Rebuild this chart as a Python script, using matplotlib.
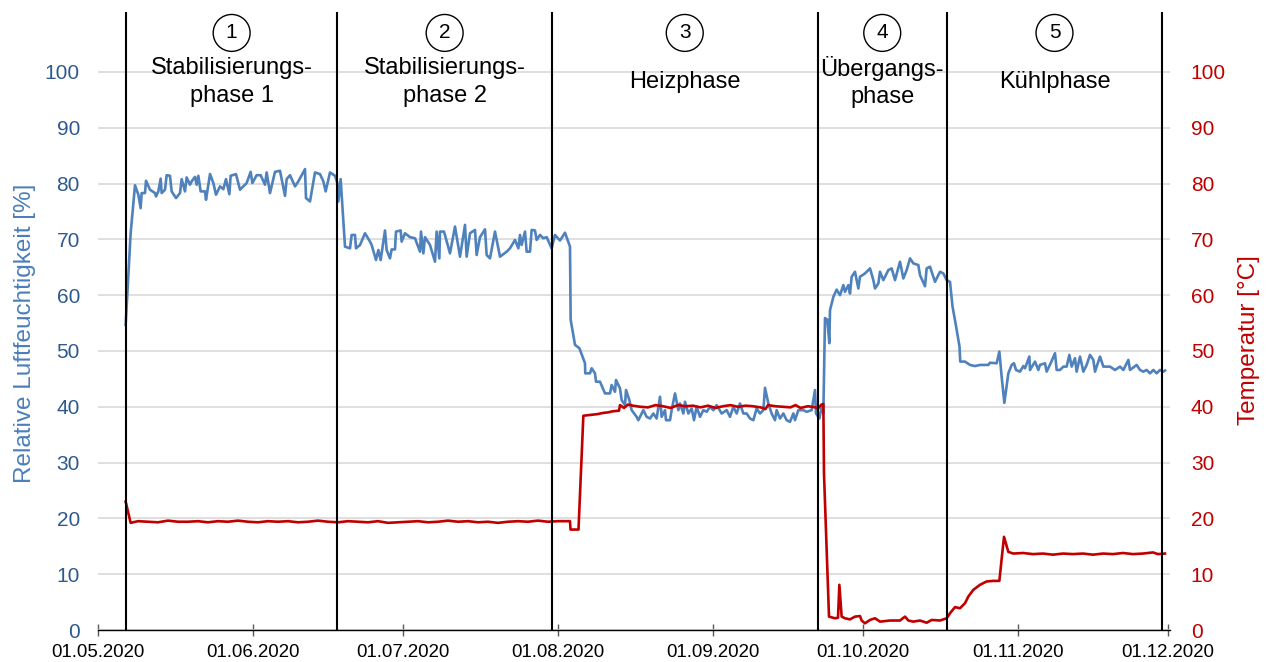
import numpy as np
import matplotlib
matplotlib.use("Agg")
import matplotlib.pyplot as plt
import matplotlib.dates as mdates

plt.rcParams["font.family"] = ["Liberation Sans", "DejaVu Sans"]

# ---------------------------------------------------------------------------
# Measurement data (time in days after 01.05.2020)
# ---------------------------------------------------------------------------
hum_days = [
    5.53, 6.53, 7.4, 8.07, 8.53, 8.73, 9.4, 9.6, 10.4, 11.4, 11.6, 12.07, 12.53,
    12.73, 13.4, 13.73, 14.4, 14.73, 15.6, 16.4, 16.73, 17.4, 17.73, 18.4, 18.73,
    19.4, 19.73, 20.07, 20.53, 21.4, 21.6, 22.4, 23.07, 23.6, 24.4, 25.07, 25.6,
    26.27, 26.53, 27.6, 28.4, 29.73, 30.53, 30.87, 31.73, 32.53, 33.4, 33.73,
    34.4, 35.4, 36.4, 37.4, 37.73, 38.4, 39.4, 40.07, 41.4, 41.6, 42.4, 43.4,
    44.4, 45.07, 45.53, 46.4, 47.4, 47.87, 48.07, 48.53,
    49.4, 50.4, 50.73, 51.4, 51.6, 52.4, 53.4, 54.4, 54.73, 55.6, 56.07, 56.53,
    57.4, 57.73, 58.4, 58.73, 59.4, 59.6, 60.53, 60.73, 61.4, 62.4, 63.4, 64.4,
    64.6, 65.07, 65.4, 66.4, 67.4, 67.73, 68.27, 68.4, 69.2, 70.4, 71.4, 72.4,
    73.4, 73.73, 74.4, 75.4, 75.73, 76.4, 77.4, 77.73, 78.4, 79.4, 80.4, 81.73,
    82.4, 83.4, 84.07, 84.4, 84.73, 85.4, 85.73, 86.4, 86.73, 87.4, 87.73, 88.4,
    89.07, 89.73, 90.73, 91.4, 92.4, 93.4,
    94.4, 94.53, 95.4, 96.27, 97.4, 97.45, 98.4, 98.73, 99.4, 99.6, 100.4, 101.4,
    102.4, 102.73, 103.4, 103.6, 104.4, 104.73, 105.4, 105.6, 106.27, 106.73,
    107.73, 108.07, 108.4, 109.07, 109.73, 110.4, 111.07, 111.73, 112.4, 112.73,
    113.4, 113.6, 114.4, 114.73, 115.4, 116.07, 116.4, 117.07, 117.4, 118.07,
    118.73, 119.2, 119.73, 120.4, 121.07, 121.73, 122.4, 123.07, 123.73, 124.73,
    125.73, 126.4, 127.07, 127.73, 128.4, 129.07, 129.73, 130.4, 131.07, 131.73,
    132.4, 133.07, 133.4, 134.07, 134.73, 135.4, 135.73, 136.4, 137.07, 137.73,
    138.4, 139.07, 139.4, 140.07, 141.07, 141.73, 142.73, 143.4, 143.6, 144.07,
    144.27, 144.73, 145.07,
    145.4, 145.87, 146.27, 146.4, 147.07, 147.73, 148.4, 149.07, 149.4, 150.07,
    150.4, 150.73, 151.4, 152.07, 152.4, 153.4, 154.4, 155.07, 155.4, 156.07,
    156.4, 157.07, 158.07, 158.73, 159.4, 160.4, 161.07, 161.73, 162.4, 163.07,
    164.07, 164.4, 165.4, 165.73, 166.4, 167.4, 168.4, 169.07, 169.73, 170.4,
    170.9, 171.5, 172.3, 172.45,
    173.4, 174.4, 175.4, 176.4, 178.07, 178.4, 179.73, 180.27, 180.73, 181.27,
    182.07, 182.73, 183.2, 183.6, 184.4, 185.07, 185.4, 186.27, 186.4, 187.4,
    188.07, 188.4, 189.4, 189.73, 190.53, 191.4, 191.73, 192.4, 193.07, 193.73,
    194.27, 194.73, 195.4, 195.73, 196.4, 197.07, 197.73, 198.4, 199.07, 199.4,
    200.4, 201.07, 202.4, 203.4, 204.4, 205.07, 206.07, 206.4, 207.73, 208.4,
    209.07, 209.73, 210.4, 211.07, 211.73, 212.4, 213.07, 213.4,
]
hum_values = [
    54.7, 71.1, 79.7, 78.0, 75.6, 78.3, 78.3, 80.5, 78.9, 78.3, 77.7, 78.6, 80.9,
    78.3, 78.9, 81.5, 81.4, 78.6, 77.4, 78.3, 80.8, 78.6, 81.1, 79.8, 80.4,
    81.2, 79.8, 81.4, 78.6, 78.6, 77.1, 81.7, 80.1, 78.0, 79.5, 79.0, 80.8,
    78.1, 81.4, 81.7, 78.9, 80.1, 82.1, 80.1, 81.5, 81.5, 79.8, 82.0,
    78.3, 82.1, 82.3, 77.8, 80.8, 81.5, 79.5, 80.4, 82.6, 77.4, 76.8, 82.0,
    81.7, 80.4, 78.6, 82.0, 81.4, 80.1, 76.8, 80.8,
    68.7, 68.4, 70.8, 70.8, 68.4, 69.0, 71.1, 69.6, 69.0, 66.3, 68.1, 66.3,
    71.6, 68.1, 66.6, 68.2, 68.2, 71.4, 71.6, 69.6, 71.1, 70.4, 70.2, 67.8,
    71.4, 67.5, 70.4, 69.0, 66.0, 71.4, 66.6, 71.4, 71.4, 67.5, 72.3, 66.9,
    72.6, 66.9, 71.1, 71.7, 67.2, 70.4, 71.8, 67.2, 66.6, 71.4, 66.9, 67.8,
    68.4, 69.9, 68.4, 70.8, 69.0, 71.4, 67.8, 67.8, 71.7, 71.6, 69.9, 70.8,
    70.2, 70.4, 68.4, 70.8, 69.8, 71.2,
    68.7, 55.6, 51.1, 50.5, 47.8, 46.0, 46.0, 46.9, 46.0, 44.5, 44.5, 42.4,
    42.4, 43.9, 42.7, 44.8, 43.3, 41.2, 40.3, 43.0, 41.2, 39.4,
    38.2, 37.6, 38.2, 39.4, 38.2, 37.9, 38.8, 37.9, 41.8, 38.2,
    39.4, 37.6, 37.6, 39.4, 42.4, 39.4, 40.6, 38.8, 40.9, 38.8,
    39.7, 37.6, 40.0, 38.2, 39.4, 39.1, 40.0, 39.4, 40.3, 38.8,
    39.4, 38.2, 40.0, 38.8, 40.6, 38.8, 38.8, 37.9, 37.6, 39.7,
    38.8, 39.4, 43.4, 40.6, 38.8, 37.6, 39.4, 37.9, 38.8, 37.6,
    37.3, 38.8, 37.6, 39.4, 39.4, 39.1, 39.4, 43.0, 38.8, 38.2,
    37.9, 40.0, 38.8,
    55.9, 55.6, 51.4, 57.3, 59.7, 61.0, 60.0, 61.8, 60.6, 61.8,
    60.3, 63.3, 64.2, 61.2, 63.3, 63.9, 64.8, 62.7, 61.2, 62.1,
    64.2, 62.7, 64.5, 64.8, 62.7, 66.0, 63.0, 64.5, 66.6, 65.7,
    65.4, 63.6, 61.6, 64.8, 65.1, 62.4, 64.2, 63.9, 62.7, 62.4,
    58.0, 55.0, 50.8, 48.1,
    48.1, 47.5, 47.3, 47.5, 47.5, 47.9, 47.8, 49.9, 45.4, 40.7,
    46.0, 47.5, 47.8, 46.6, 46.3, 47.3, 46.9, 49.0, 46.6, 48.1,
    46.6, 47.5, 47.8, 46.3, 47.8, 49.6, 46.6, 46.6, 47.2, 47.2,
    49.3, 47.2, 48.7, 46.3, 49.0, 46.3, 47.5, 49.3, 48.4, 46.3,
    49.0, 47.2, 47.2, 46.6, 47.2, 46.6, 48.4, 46.6, 47.5, 46.6,
    46.3, 46.6, 46.0, 46.6, 46.0, 46.6, 46.3, 46.5,
]

temp_days = [
    5.53, 6.53, 8, 10, 12, 14, 16, 18, 20, 22, 24, 26, 28, 30, 32, 34, 36, 38,
    40, 42, 44, 46, 48, 50, 52, 54, 56, 58, 60, 62, 64, 66, 68, 70, 72, 74, 76,
    78, 80, 82, 84, 86, 88, 90, 92, 94.4, 94.5, 96.1, 97.07,
    98, 99, 100, 101, 102, 103, 104.2, 104.4, 105.2, 106, 107, 108.5, 110,
    111.5, 113, 114.5, 116, 117.5, 119, 120.5, 122, 123.5, 125, 126.5, 128,
    129.5, 131, 132.5, 133.5, 134, 135.5, 137, 138.5, 139.5, 140.5, 142, 143.5,
    144, 144.7, 145.07, 145.2, 146.2, 147.4, 148.0, 148.27, 148.73, 149.4,
    150.4, 151.4, 152.4, 152.73, 153.4, 154.4, 155.4, 156.4, 158.4, 160.4,
    161.4, 162.07, 163.07, 164.4, 165.73, 166.73, 168.4, 169.73, 170.4, 171.4,
    172.4, 173.4, 174.07, 175.07, 176.4, 177.73, 179.07, 180.27, 181.2, 182.07,
    183.07, 185, 187, 189, 191, 193, 195, 197, 199, 201, 203, 205, 207, 209,
    211, 212, 213.4,
]
temp_values = [
    23.0, 19.2, 19.5, 19.4, 19.3, 19.6, 19.4, 19.4, 19.5, 19.3, 19.5, 19.4,
    19.6, 19.4, 19.3, 19.5, 19.4, 19.5, 19.3, 19.4, 19.6, 19.4, 19.3, 19.5,
    19.4, 19.3, 19.5, 19.2, 19.3, 19.4, 19.5, 19.3, 19.4, 19.6, 19.4, 19.5,
    19.3, 19.4, 19.2, 19.4, 19.5, 19.4, 19.6, 19.4, 19.5, 19.5, 18.0, 18.0,
    38.4,
    38.5, 38.6, 38.7, 38.9, 39.0, 39.2, 39.3, 40.3, 39.8, 40.4, 40.2, 40.0,
    39.9, 40.3, 40.1, 39.8, 40.3, 40.1, 40.2, 39.9, 40.2, 39.8, 40.1, 40.3,
    40.0, 40.2, 40.1, 39.9, 39.6, 40.3, 40.1, 40.0, 39.9, 40.3, 39.8, 40.1,
    39.9, 39.7, 40.4, 40.5, 28.0, 2.4, 2.1, 2.2, 8.1, 2.4, 2.1,
    1.9, 2.4, 2.5, 1.7, 1.2, 1.8, 2.1, 1.5, 1.7, 1.7,
    2.4, 1.7, 1.5, 1.7, 1.3, 1.8, 1.7, 2.1, 3.0, 4.1,
    3.9, 4.8, 6.0, 7.2, 8.1, 8.7, 8.8, 8.8, 16.7, 14.0,
    13.7, 13.8, 13.6, 13.7, 13.5, 13.7, 13.6, 13.7, 13.5, 13.7, 13.6, 13.8,
    13.6, 13.7, 13.9, 13.6, 13.7,
]

# Phase boundaries (days after 01.05.2020) and phase captions
phase_bounds = [5.6, 47.86, 90.8, 143.9, 169.8, 212.8]
phase_numbers = ["1", "2", "3", "4", "5"]
phase_names = [
    "Stabilisierungs-\nphase 1",
    "Stabilisierungs-\nphase 2",
    "Heizphase",
    "Übergangs-\nphase",
    "Kühlphase",
]

y_ticks = list(range(0, 101, 10))
start = np.datetime64("2020-05-01T00:00")


def to_dates(days):
    minutes = np.round(np.asarray(days, dtype=float) * 1440).astype("int64")
    return start + minutes.astype("timedelta64[m]")


# ---------------------------------------------------------------------------
# Figure
# ---------------------------------------------------------------------------
BLUE = "#4F81BD"
BLUE_TICK = "#2F5A8F"
BLUE_LABEL = "#4A7EBB"
RED = "#C00000"

W, H = 1275, 662
fig = plt.figure(figsize=(W / 100, H / 100), dpi=100)
ax = fig.add_axes([98 / W, 32 / H, 1072 / W, 618 / H])
ax2 = ax.twinx()

ax.plot(to_dates(hum_days), hum_values, color=BLUE, lw=1.9, zorder=3)
ax2.plot(to_dates(temp_days), temp_values, color=RED, lw=1.9, zorder=3)

ymax = 110.75
for a in (ax, ax2):
    a.set_ylim(0, ymax)
    a.set_yticks(y_ticks)
    for side in ("left", "right", "top"):
        a.spines[side].set_visible(False)
ax2.spines["bottom"].set_visible(False)

ax.set_xlim(to_dates(0), to_dates(214.4))
ax.xaxis.set_major_locator(mdates.MonthLocator())
ax.xaxis.set_major_formatter(mdates.DateFormatter("%d.%m.%Y"))
ax.spines["bottom"].set_color("#000000")
ax.spines["bottom"].set_linewidth(1.0)
ax.tick_params(axis="x", direction="inout", length=8, width=1,
               color="#595959", labelsize=13.4, pad=6)

ax.grid(axis="y", color="#D9D9D9", lw=1.2)
ax.set_axisbelow(True)

ax.tick_params(axis="y", length=0, pad=13, labelsize=15, labelcolor=BLUE_TICK)
ax2.tick_params(axis="y", length=0, pad=15, labelsize=15, labelcolor=RED)

ax.set_ylabel("Relative Luftfeuchtigkeit [%]", fontsize=17.5, color=BLUE_LABEL)
ax.yaxis.set_label_coords(-0.058, 0.48)
ax2.set_ylabel("Temperatur [°C]", fontsize=17.5, color=RED)
ax2.yaxis.set_label_coords(1.063, 0.469)

# Phase separators, numbers and captions
for d in phase_bounds:
    ax2.axvline(to_dates(d), color="black", lw=1.5, zorder=5)

for i, (num, name) in enumerate(zip(phase_numbers, phase_names)):
    mid = to_dates((phase_bounds[i] + phase_bounds[i + 1]) / 2)
    ax2.text(mid, 107.0, num, ha="center", va="center", fontsize=15,
             bbox=dict(boxstyle="circle,pad=0.43", fc="white", ec="black", lw=1.0),
             zorder=6)
    ax2.text(mid, 98.2, name, ha="center", va="center", fontsize=17,
             linespacing=1.32, zorder=6)

fig.savefig("out.png", dpi=100)
